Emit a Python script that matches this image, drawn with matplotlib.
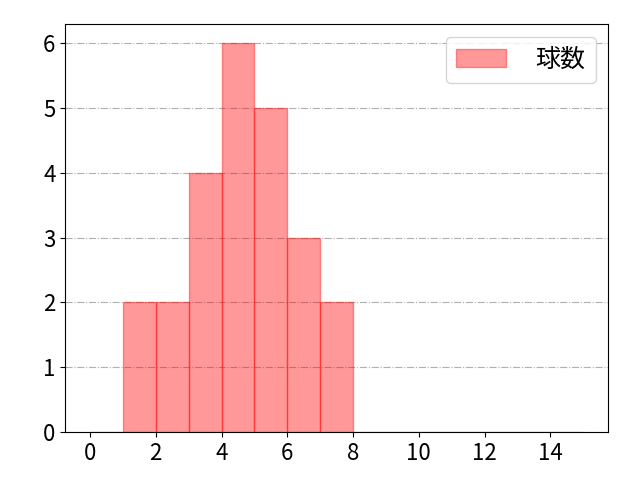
import matplotlib
matplotlib.use('Agg')
import matplotlib.pyplot as plt
import numpy as np

plt.rcParams['font.family'] = ['Noto Sans CJK JP', 'DejaVu Sans']

# pitches per plate appearance (bin start) and their counts
bin_starts = [1, 2, 3, 4, 5, 6, 7]
counts = [2, 2, 4, 6, 5, 3, 2]
bins = np.arange(0, 16)
label = '球数'

values = np.repeat(bin_starts, counts)

fig, ax = plt.subplots(figsize=(6.4, 4.8), dpi=100)
ax.hist(values, bins=bins, color='red', alpha=0.4, edgecolor='red', label=label)
ax.grid(axis='y', linestyle='-.', color='#b0b0b0')
ax.set_axisbelow(True)
ax.set_xticks(np.arange(0, 15, 2))
ax.tick_params(labelsize=16)
ax.legend(fontsize=18, loc='upper right', handletextpad=1.2)
fig.subplots_adjust(left=0.102, right=0.95, top=0.95, bottom=0.1)
fig.savefig('out.png')
